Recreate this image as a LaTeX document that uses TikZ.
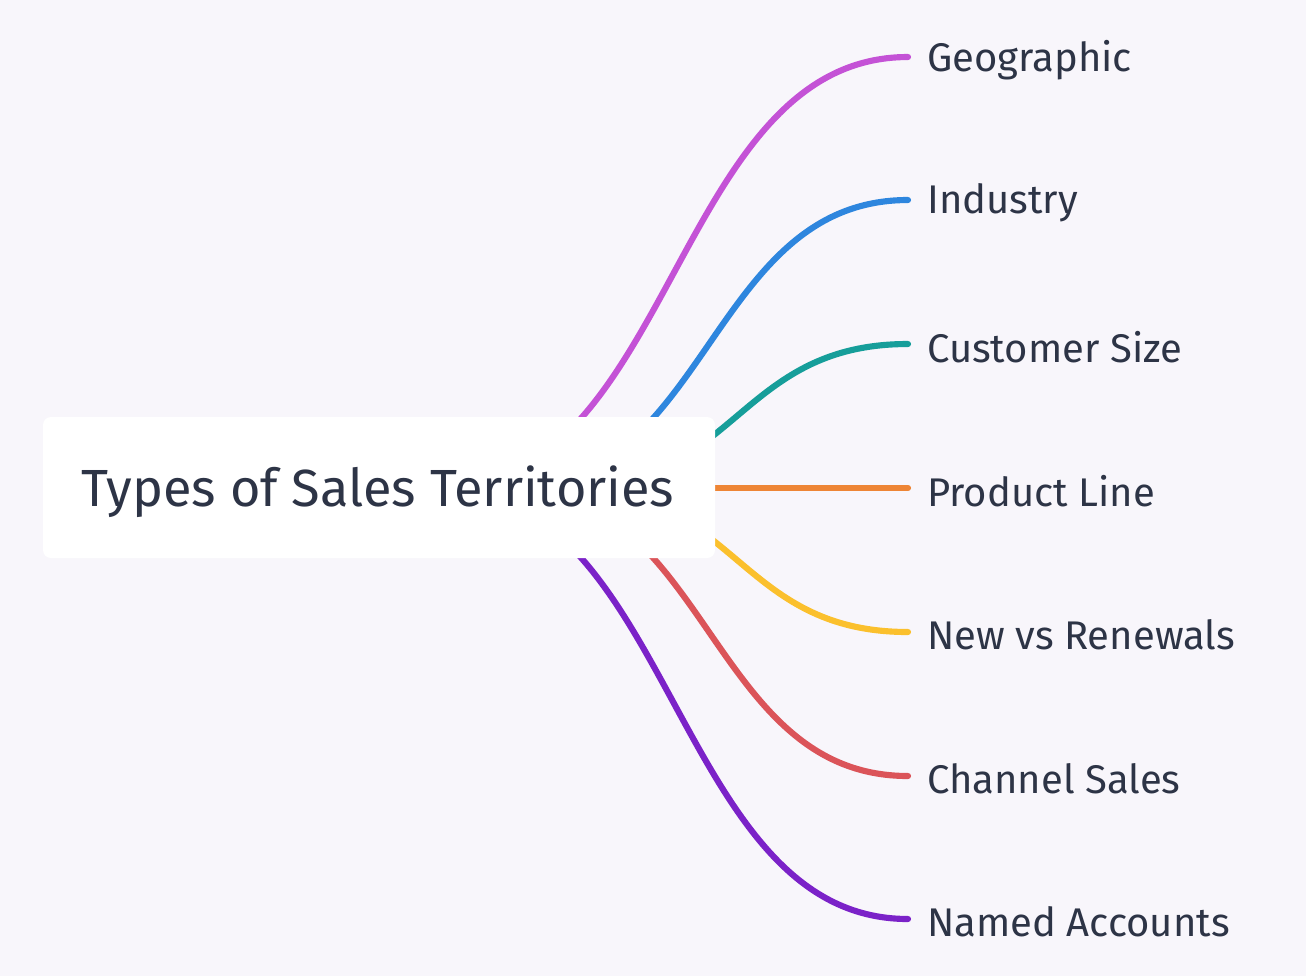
\documentclass[tikz,border=0pt]{standalone}
\usepackage{fontspec}
\setmainfont{Fira Sans}
\definecolor{bg}{HTML}{F8F6FB}
\definecolor{txt}{HTML}{2D3446}
\definecolor{cA}{HTML}{C452D6}
\definecolor{cB}{HTML}{2E86DE}
\definecolor{cC}{HTML}{169E9A}
\definecolor{cD}{HTML}{EE8535}
\definecolor{cE}{HTML}{FBC02D}
\definecolor{cF}{HTML}{DB5459}
\definecolor{cG}{HTML}{7B22C8}
\begin{document}
\begin{tikzpicture}[x=0.75pt,y=-0.75pt,
  leaf/.style={anchor=west,text=txt,font=\fontsize{30}{34}\selectfont,inner sep=0pt},
  branch/.style={line width=4.6pt,line cap=round}]
\fill[bg] (0,0) rectangle (1306,976);
\useasboundingbox (0,0) rectangle (1306,976);
\foreach \n/\y/\s/\c in {a/57/440/cA,b/200/510/cB,c/344/566/cC,e/632/566/cE,f/776/510/cF,g/919/440/cG}{
  \coordinate (s\n) at (\s,488);
  \coordinate (e\n) at (908,\y);
  \pgfmathsetmacro\m{(\s+908)/2}
  \draw[branch,\c] (s\n) .. controls (\m,488) and (\m,\y) .. (e\n);
}
\coordinate (sd) at (700,488);
\coordinate (ed) at (908,488);
\draw[branch,cD] (sd) -- (ed);
\node[fill=white,rounded corners=6pt,minimum width=672*0.75pt,minimum height=141*0.75pt,inner sep=0pt] (root) at (379,487.5) {};
\node[text=txt,font=\fontsize{39.2}{44}\selectfont,inner sep=0pt] (title) at (378,492) {Types of Sales Territories};
\node[leaf] (la) at (927,60) {Geographic};
\node[leaf] (lb) at (927,203) {Industry};
\node[leaf] (lc) at (927,347) {Customer Size};
\node[leaf] (ld) at (927,491) {Product Line};
\node[leaf] (le) at (927,635) {New vs Renewals};
\node[leaf] (lf) at (927,779) {Channel Sales};
\node[leaf] (lg) at (927,922) {Named Accounts};
\end{tikzpicture}
\end{document}
